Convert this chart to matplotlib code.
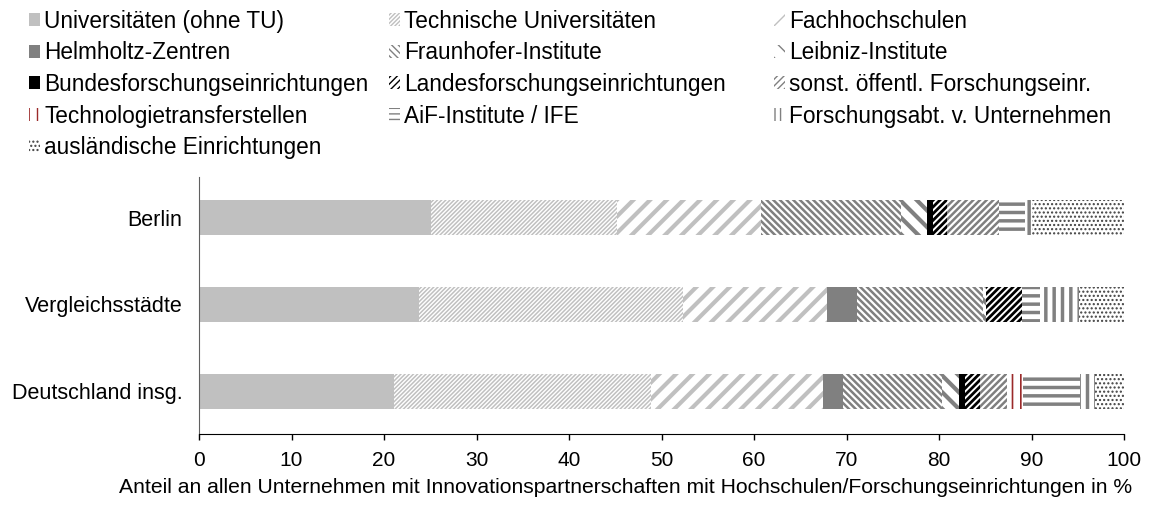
import matplotlib
matplotlib.use("Agg")
import matplotlib.pyplot as plt
from matplotlib.patches import Patch
import numpy as np

plt.rcParams['font.family'] = ['Liberation Sans', 'DejaVu Sans']

categories = ["Berlin", "Vergleichsstädte", "Deutschland insg."]
series_names = [
    "Universitäten (ohne TU)", "Technische Universitäten", "Fachhochschulen",
    "Helmholtz-Zentren", "Fraunhofer-Institute", "Leibniz-Institute",
    "Bundesforschungseinrichtungen", "Landesforschungseinrichtungen",
    "sonst. öffentl. Forschungseinr.", "Technologietransferstellen",
    "AiF-Institute / IFE", "Forschungsabt. v. Unternehmen",
    "ausländische Einrichtungen",
]
uni = [25.1, 23.8, 21.1]
tu = [20.1, 28.5, 27.8]
fh = [15.6, 15.6, 18.6]
helm = [0.0, 3.2, 2.1]
fraunhofer = [15.1, 13.7, 10.7]
leibniz = [2.8, 0.3, 1.9]
bund = [0.7, 0.0, 0.6]
landes = [1.5, 3.9, 1.6]
sonst = [5.6, 0.0, 2.9]
tt = [0.0, 0.0, 1.8]
aif = [2.8, 1.9, 6.1]
fabt = [0.7, 4.2, 1.7]
ausl = [10.0, 4.9, 3.1]
values = [uni, tu, fh, helm, fraunhofer, leibniz, bund, landes, sonst, tt, aif, fabt, ausl]
xticks = [0, 10, 20, 30, 40, 50, 60, 70, 80, 90, 100]
xlabel = "Anteil an allen Unternehmen mit Innovationspartnerschaften mit Hochschulen/Forschungseinrichtungen in %"

# style: (facecolor, hatch, hatchcolor, hatch linewidth, legend hatch)
styles = [
    ('#C0C0C0', None, '#C0C0C0', 1.0, None),
    ('white', '////////', '#C0C0C0', 1.1, '////////'),
    ('white', '//', '#C0C0C0', 3.0, '//'),
    ('#808080', None, '#808080', 1.0, None),
    ('white', '\\\\\\\\\\', '#808080', 1.8, '\\\\\\\\\\'),
    ('white', '\\\\', '#808080', 3.0, '\\\\'),
    ('black', None, 'black', 1.0, None),
    ('white', '/////', 'black', 2.0, '/////'),
    ('white', '/////', '#808080', 1.8, '/////'),
    ('white', '||', '#9B2A2A', 1.2, '||'),
    ('white', '--', '#808080', 2.5, '---'),
    ('white', '||', '#808080', 2.5, '|||'),
    ('white', '....', '#404040', 1.0, '....'),
]

FS = 15.5
FS_TICK = 15
FS_LEG = 16.3
fig = plt.figure(figsize=(11.49, 5.07), dpi=100)
ax = fig.add_axes([199/1149, 1-434/507, (1124-199)/1149, (434-177)/507])

y = np.arange(len(categories))
left = np.zeros(len(categories))
handles = []
for name, vals, (fc, h, hc, hlw, lh) in zip(series_names, values, styles):
    with plt.rc_context({'hatch.linewidth': hlw}):
        bars = ax.barh(y, vals, left=left, height=0.40, color=fc, edgecolor=hc,
                       hatch=h, linewidth=0, label=name)
        for b in bars:
            try:
                b.set_hatch_linewidth(hlw)
            except AttributeError:
                pass
        p = Patch(facecolor=fc, edgecolor=hc, hatch=lh, linewidth=0, label=name)
        try:
            p.set_hatch_linewidth(min(hlw, 1.5))
        except AttributeError:
            pass
    handles.append(p)
    left = left + np.array(vals)

ax.set_xlim(0, 100)
ax.set_ylim(2.49, -0.466)
ax.set_yticks(y)
ax.set_yticklabels(categories, fontsize=FS)
ax.set_xticks(xticks)
ax.set_xticklabels([str(t) for t in xticks], fontsize=FS_TICK)
ax.tick_params(axis='y', length=0, pad=12)
ax.tick_params(axis='x', direction='out', length=4.5, width=1, pad=8, color='black')
ax.set_xlabel(xlabel, fontsize=15.2)
ax.xaxis.set_label_coords((626 - 199) / 925, -0.17)
for s in ['top', 'right']:
    ax.spines[s].set_visible(False)
ax.spines['left'].set_color('#606060')
ax.spines['bottom'].set_color('black')

# legend: three columns, row-wise order
cols = [[0, 3, 6, 9, 12], [1, 4, 7, 10], [2, 5, 8, 11]]
xs = [24/1149, 384/1149, 769/1149]
for c, x0 in zip(cols, xs):
    fig.legend([handles[i] for i in c], [series_names[i] for i in c],
               loc='upper left', bbox_to_anchor=(x0, 1 - 5/507), frameon=False,
               fontsize=FS_LEG, handlelength=0.5, handleheight=0.5,
               handletextpad=0.2, labelspacing=0.385, borderaxespad=0.0,
               borderpad=0.2)

fig.savefig("out.png", dpi=100)
